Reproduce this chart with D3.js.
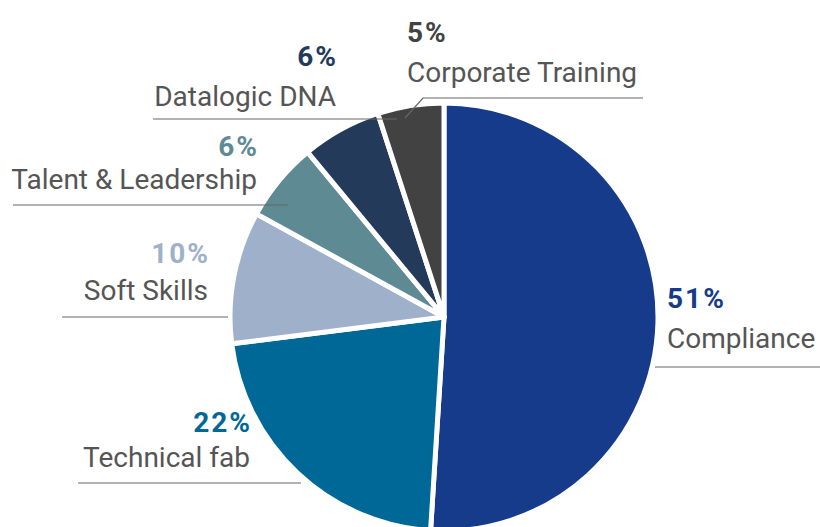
<!DOCTYPE html>
<html>
<head>
<meta charset="utf-8">
<script src="https://cdn.jsdelivr.net/npm/d3@7"></script>
<style>
  body { margin: 0; background: #fff; }
  text { font-family: Roboto, "Noto Sans", sans-serif; }
</style>
</head>
<body>
<script>
var w = 820;
var h = 527;

// data
var categories = ["Compliance", "Technical fab", "Soft Skills", "Talent & Leadership", "Datalogic DNA", "Corporate Training"];
var shares = [51, 22, 10, 6, 6, 5];
var colors = ["#163b8a", "#006896", "#9fb0cb", "#5e8a94", "#233a5a", "#424242"];

// label layout: anchor x, baseline of the % line, leader line y, line ends, text side
var labelPos = [
  {x: 667, y: 308, ly: 367, x1: 655, x2: 820, side: "start"},
  {x: 250, y: 432, ly: 483, x1: 78, x2: 301, side: "end"},
  {x: 208, y: 263, ly: 317, x1: 62, x2: 228, side: "end"},
  {x: 257, y: 156, ly: 205, x1: 13, x2: 288, side: "end"},
  {x: 336, y: 66, ly: 119, x1: 153, x2: 397, side: "end"},
  {x: 407, y: 42, ly: 98, x1: 423, x2: 643, side: "start", kink: [405, 118]}
];
var nameGap = [40, 35, 37, 33, 40, 40];

var cx = 444, cy = 317, r = 214;

var svg = d3.select("body").append("svg")
  .attr("width", w)
  .attr("height", h);

var pie = d3.pie().sort(null).value(function(d) { return d; });
var arc = d3.arc().innerRadius(0).outerRadius(r);

var g = svg.append("g").attr("transform", "translate(" + cx + "," + cy + ")");

g.selectAll("path")
  .data(pie(shares))
  .enter()
  .append("path")
  .attr("d", arc)
  .attr("fill", function(d, i) { return colors[i]; })
  .attr("stroke", "#fff")
  .attr("stroke-width", 5)
  .attr("stroke-linejoin", "round");

// leader lines
svg.selectAll("path.leader")
  .data(labelPos)
  .enter()
  .append("path")
  .attr("class", "leader")
  .attr("fill", "none")
  .attr("stroke", "#666")
  .attr("stroke-width", 1.2)
  .attr("d", function(d) {
    var p = "M" + d.x1 + "," + d.ly + "L" + d.x2 + "," + d.ly;
    if (d.kink) p = "M" + d.kink[0] + "," + d.kink[1] + "L" + d.x1 + "," + d.ly + "L" + d.x2 + "," + d.ly;
    return p;
  });

// percentages
svg.selectAll("text.pct")
  .data(labelPos)
  .enter()
  .append("text")
  .attr("class", "pct")
  .attr("x", function(d) { return d.side == "end" ? d.x + 2 : d.x; })
  .attr("y", function(d) { return d.y; })
  .attr("text-anchor", function(d) { return d.side; })
  .attr("font-size", 28)
  .attr("font-weight", "bold")
  .attr("letter-spacing", 2)
  .attr("fill", function(d, i) { return colors[i]; })
  .text(function(d, i) { return shares[i] + "%"; });

// category names
svg.selectAll("text.name")
  .data(labelPos)
  .enter()
  .append("text")
  .attr("class", "name")
  .attr("x", function(d) { return d.x; })
  .attr("y", function(d, i) { return d.y + nameGap[i]; })
  .attr("text-anchor", function(d) { return d.side; })
  .attr("font-size", 28)
  .attr("fill", "#555")
  .text(function(d, i) { return categories[i]; });
</script>
</body>
</html>
